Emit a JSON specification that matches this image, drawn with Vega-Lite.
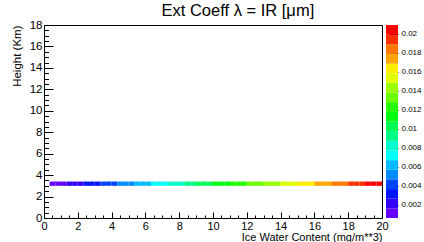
{
  "$schema": "https://vega.github.io/schema/vega-lite/v6.json",
  "padding": {"left": 10, "top": 3, "right": 0, "bottom": 0},
  "background": "white",
  "bounds": "flush",
  "title": {"text": "Ext Coeff λ = IR [μm]", "font": "Liberation Sans", "fontSize": 16.5, "fontWeight": "normal", "color": "black", "anchor": "middle", "dx": 22, "offset": -1},
  "config": {
    "font": "Liberation Sans",
    "axis": {"labelFont": "Liberation Sans", "titleFont": "Liberation Sans", "titleFontWeight": "normal", "domainColor": "black", "tickColor": "black", "labelColor": "black", "titleColor": "black", "grid": false, "labelOverlap": false, "labelFlush": false},
    "concat": {"spacing": 4}
  },
  "datasets": {
    "cells": [
      {"x0": 0.3333, "x1": 0.6667, "h0": 3.0, "h1": 3.4, "v": 0.00083},
      {"x0": 0.6667, "x1": 1.0, "h0": 3.0, "h1": 3.4, "v": 0.00114},
      {"x0": 1.0, "x1": 1.3333, "h0": 3.0, "h1": 3.4, "v": 0.00144},
      {"x0": 1.3333, "x1": 1.6667, "h0": 3.0, "h1": 3.4, "v": 0.00185},
      {"x0": 1.6667, "x1": 2.0, "h0": 3.0, "h1": 3.4, "v": 0.00215},
      {"x0": 2.0, "x1": 2.3333, "h0": 3.0, "h1": 3.4, "v": 0.00246},
      {"x0": 2.3333, "x1": 2.6667, "h0": 3.0, "h1": 3.4, "v": 0.00286},
      {"x0": 2.6667, "x1": 3.0, "h0": 3.0, "h1": 3.4, "v": 0.00317},
      {"x0": 3.0, "x1": 3.3333, "h0": 3.0, "h1": 3.4, "v": 0.00347},
      {"x0": 3.3333, "x1": 3.6667, "h0": 3.0, "h1": 3.4, "v": 0.00388},
      {"x0": 3.6667, "x1": 4.0, "h0": 3.0, "h1": 3.4, "v": 0.00418},
      {"x0": 4.0, "x1": 4.3333, "h0": 3.0, "h1": 3.4, "v": 0.00448},
      {"x0": 4.3333, "x1": 4.6667, "h0": 3.0, "h1": 3.4, "v": 0.00489},
      {"x0": 4.6667, "x1": 5.0, "h0": 3.0, "h1": 3.4, "v": 0.00519},
      {"x0": 5.0, "x1": 5.3333, "h0": 3.0, "h1": 3.4, "v": 0.0055},
      {"x0": 5.3333, "x1": 5.6667, "h0": 3.0, "h1": 3.4, "v": 0.0059},
      {"x0": 5.6667, "x1": 6.0, "h0": 3.0, "h1": 3.4, "v": 0.00621},
      {"x0": 6.0, "x1": 6.3333, "h0": 3.0, "h1": 3.4, "v": 0.00651},
      {"x0": 6.3333, "x1": 6.6667, "h0": 3.0, "h1": 3.4, "v": 0.00692},
      {"x0": 6.6667, "x1": 7.0, "h0": 3.0, "h1": 3.4, "v": 0.00722},
      {"x0": 7.0, "x1": 7.3333, "h0": 3.0, "h1": 3.4, "v": 0.00753},
      {"x0": 7.3333, "x1": 7.6667, "h0": 3.0, "h1": 3.4, "v": 0.00793},
      {"x0": 7.6667, "x1": 8.0, "h0": 3.0, "h1": 3.4, "v": 0.00824},
      {"x0": 8.0, "x1": 8.3333, "h0": 3.0, "h1": 3.4, "v": 0.00854},
      {"x0": 8.3333, "x1": 8.6667, "h0": 3.0, "h1": 3.4, "v": 0.00894},
      {"x0": 8.6667, "x1": 9.0, "h0": 3.0, "h1": 3.4, "v": 0.00935},
      {"x0": 9.0, "x1": 9.3333, "h0": 3.0, "h1": 3.4, "v": 0.00996},
      {"x0": 9.3333, "x1": 9.6667, "h0": 3.0, "h1": 3.4, "v": 0.01026},
      {"x0": 9.6667, "x1": 10.0, "h0": 3.0, "h1": 3.4, "v": 0.01057},
      {"x0": 10.0, "x1": 10.3333, "h0": 3.0, "h1": 3.4, "v": 0.01097},
      {"x0": 10.3333, "x1": 10.6667, "h0": 3.0, "h1": 3.4, "v": 0.01128},
      {"x0": 10.6667, "x1": 11.0, "h0": 3.0, "h1": 3.4, "v": 0.01158},
      {"x0": 11.0, "x1": 11.3333, "h0": 3.0, "h1": 3.4, "v": 0.01199},
      {"x0": 11.3333, "x1": 11.6667, "h0": 3.0, "h1": 3.4, "v": 0.01229},
      {"x0": 11.6667, "x1": 12.0, "h0": 3.0, "h1": 3.4, "v": 0.0126},
      {"x0": 12.0, "x1": 12.3333, "h0": 3.0, "h1": 3.4, "v": 0.013},
      {"x0": 12.3333, "x1": 12.6667, "h0": 3.0, "h1": 3.4, "v": 0.0133},
      {"x0": 12.6667, "x1": 13.0, "h0": 3.0, "h1": 3.4, "v": 0.01361},
      {"x0": 13.0, "x1": 13.3333, "h0": 3.0, "h1": 3.4, "v": 0.01402},
      {"x0": 13.3333, "x1": 13.6667, "h0": 3.0, "h1": 3.4, "v": 0.01432},
      {"x0": 13.6667, "x1": 14.0, "h0": 3.0, "h1": 3.4, "v": 0.01462},
      {"x0": 14.0, "x1": 14.3333, "h0": 3.0, "h1": 3.4, "v": 0.01503},
      {"x0": 14.3333, "x1": 14.6667, "h0": 3.0, "h1": 3.4, "v": 0.01533},
      {"x0": 14.6667, "x1": 15.0, "h0": 3.0, "h1": 3.4, "v": 0.01564},
      {"x0": 15.0, "x1": 15.3333, "h0": 3.0, "h1": 3.4, "v": 0.01604},
      {"x0": 15.3333, "x1": 15.6667, "h0": 3.0, "h1": 3.4, "v": 0.01635},
      {"x0": 15.6667, "x1": 16.0, "h0": 3.0, "h1": 3.4, "v": 0.01665},
      {"x0": 16.0, "x1": 16.3333, "h0": 3.0, "h1": 3.4, "v": 0.01706},
      {"x0": 16.3333, "x1": 16.6667, "h0": 3.0, "h1": 3.4, "v": 0.01736},
      {"x0": 16.6667, "x1": 17.0, "h0": 3.0, "h1": 3.4, "v": 0.01767},
      {"x0": 17.0, "x1": 17.3333, "h0": 3.0, "h1": 3.4, "v": 0.01807},
      {"x0": 17.3333, "x1": 17.6667, "h0": 3.0, "h1": 3.4, "v": 0.01838},
      {"x0": 17.6667, "x1": 18.0, "h0": 3.0, "h1": 3.4, "v": 0.01868},
      {"x0": 18.0, "x1": 18.3333, "h0": 3.0, "h1": 3.4, "v": 0.01909},
      {"x0": 18.3333, "x1": 18.6667, "h0": 3.0, "h1": 3.4, "v": 0.01939},
      {"x0": 18.6667, "x1": 19.0, "h0": 3.0, "h1": 3.4, "v": 0.01969},
      {"x0": 19.0, "x1": 19.3333, "h0": 3.0, "h1": 3.4, "v": 0.0201},
      {"x0": 19.3333, "x1": 19.6667, "h0": 3.0, "h1": 3.4, "v": 0.0204},
      {"x0": 19.6667, "x1": 20.0, "h0": 3.0, "h1": 3.4, "v": 0.02071}
    ],
    "levels": [
      {"lo": 0.00063, "hi": 0.00164, "v": 0.00114},
      {"lo": 0.00164, "hi": 0.00266, "v": 0.00215},
      {"lo": 0.00266, "hi": 0.00367, "v": 0.00317},
      {"lo": 0.00367, "hi": 0.00469, "v": 0.00418},
      {"lo": 0.00469, "hi": 0.0057, "v": 0.00519},
      {"lo": 0.0057, "hi": 0.00671, "v": 0.00621},
      {"lo": 0.00671, "hi": 0.00773, "v": 0.00722},
      {"lo": 0.00773, "hi": 0.00874, "v": 0.00824},
      {"lo": 0.00874, "hi": 0.00976, "v": 0.00925},
      {"lo": 0.00976, "hi": 0.01077, "v": 0.01026},
      {"lo": 0.01077, "hi": 0.01178, "v": 0.01128},
      {"lo": 0.01178, "hi": 0.0128, "v": 0.01229},
      {"lo": 0.0128, "hi": 0.01381, "v": 0.0133},
      {"lo": 0.01381, "hi": 0.01483, "v": 0.01432},
      {"lo": 0.01483, "hi": 0.01584, "v": 0.01533},
      {"lo": 0.01584, "hi": 0.01685, "v": 0.01635},
      {"lo": 0.01685, "hi": 0.01787, "v": 0.01736},
      {"lo": 0.01787, "hi": 0.01888, "v": 0.01838},
      {"lo": 0.01888, "hi": 0.0199, "v": 0.01939},
      {"lo": 0.0199, "hi": 0.02091, "v": 0.0204}
    ]
  },
  "hconcat": [
    {
      "width": 338,
      "height": 193,
      "data": {"name": "cells"},
      "view": {"stroke": "black", "strokeWidth": 1},
      "mark": {"type": "rect"},
      "encoding": {
        "x": {
          "field": "x0", "type": "quantitative",
          "scale": {"domain": [0, 20], "nice": false, "zero": false},
          "axis": {
            "values": [0,0.5,1,1.5,2,2.5,3,3.5,4,4.5,5,5.5,6,6.5,7,7.5,8,8.5,9,9.5,10,10.5,11,11.5,12,12.5,13,13.5,14,14.5,15,15.5,16,16.5,17,17.5,18,18.5,19,19.5,20],
            "format": "~g",
            "labelExpr": "datum.value % 2 === 0 ? datum.label : ''",
            "tickSize": {"condition": {"test": "datum.value % 2 === 0", "value": -6}, "value": -3},
            "labelFontSize": 11,
            "labelPadding": 8,
            "title": "Ice Water Content (mg/m**3)",
            "titleFontSize": 11,
            "titleAnchor": "end",
            "titlePadding": -3
          }
        },
        "x2": {"field": "x1"},
        "y": {
          "field": "h0", "type": "quantitative",
          "scale": {"domain": [0, 18], "nice": false, "zero": false},
          "axis": {
            "values": [0,0.5,1,1.5,2,2.5,3,3.5,4,4.5,5,5.5,6,6.5,7,7.5,8,8.5,9,9.5,10,10.5,11,11.5,12,12.5,13,13.5,14,14.5,15,15.5,16,16.5,17,17.5,18],
            "format": "~g",
            "labelExpr": "datum.value % 2 === 0 ? datum.label : ''",
            "tickSize": {"condition": {"test": "datum.value % 2 === 0", "value": -9}, "value": -4.5},
            "labelFontSize": 11.5,
            "labelPadding": 11,
            "title": "Height (Km)",
            "titleFontSize": 11.5,
            "titleAnchor": "end",
            "titlePadding": 7
          }
        },
        "y2": {"field": "h1"},
        "color": {
          "field": "v", "type": "quantitative",
          "scale": {"type": "quantize", "domain": [0.00063, 0.02091], "nice": false,
            "range": ["#6300ff","#3300ff","#0014ff","#0044ff","#008bff","#00bbff","#00fffc","#00ffcc","#00ff85","#00ff55","#00ff0e","#22ff00","#69ff00","#99ff00","#e0ff00","#ffee00","#ffa700","#ff7700","#ff3000","#ff0000"]},
          "legend": null
        }
      }
    },
    {
      "width": 12,
      "height": 193,
      "data": {"name": "levels"},
      "view": {"stroke": null},
      "mark": {"type": "rect"},
      "encoding": {
        "y": {
          "field": "lo", "type": "quantitative",
          "scale": {"domain": [0.00063, 0.02091], "nice": false, "zero": false},
          "axis": {
            "orient": "right",
            "values": [0.002,0.004,0.006,0.008,0.01,0.012,0.014,0.016,0.018,0.02],
            "format": "~g",
            "tickSize": -9,
            "domain": false,
            "labelFontSize": 8,
            "labelPadding": 12,
            "title": null
          }
        },
        "y2": {"field": "hi"},
        "color": {
          "field": "v", "type": "quantitative",
          "scale": {"type": "quantize", "domain": [0.00063, 0.02091], "nice": false,
            "range": ["#6300ff","#3300ff","#0014ff","#0044ff","#008bff","#00bbff","#00fffc","#00ffcc","#00ff85","#00ff55","#00ff0e","#22ff00","#69ff00","#99ff00","#e0ff00","#ffee00","#ffa700","#ff7700","#ff3000","#ff0000"]},
          "legend": null
        }
      }
    }
  ]
}
